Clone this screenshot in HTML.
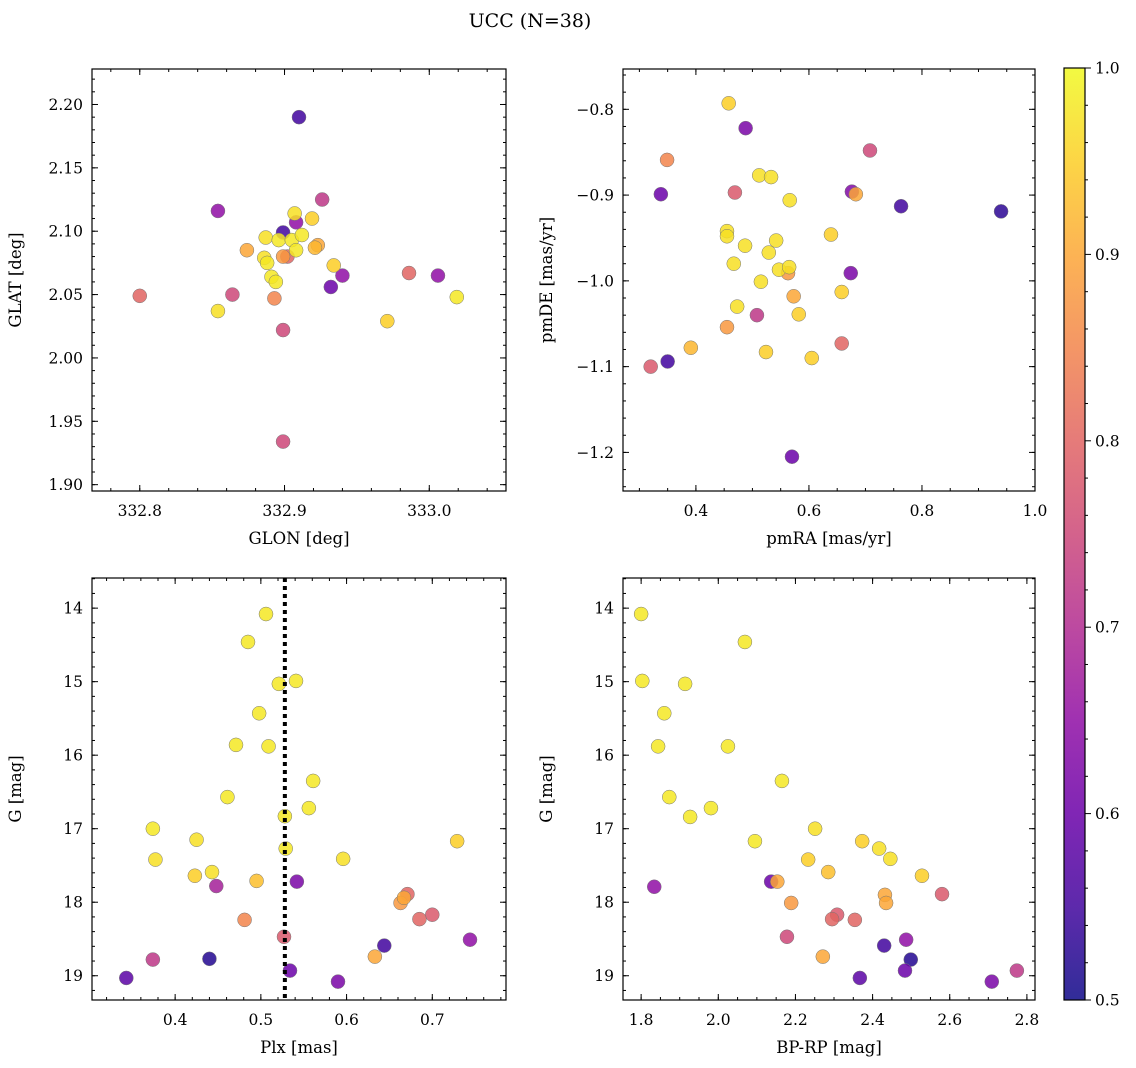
<!DOCTYPE html>
<html><head><meta charset="utf-8"><style>
body{margin:0;background:#fff;}
svg{display:block;font-family:"DejaVu Serif","Liberation Serif",serif;}
</style></head><body>
<svg id="fig" width="1136" height="1068" xmlns="http://www.w3.org/2000/svg">
<defs><linearGradient id="plasma" x1="0" y1="1" x2="0" y2="0"></linearGradient></defs>
<text x="530" y="27" font-size="19" text-anchor="middle">UCC (N=38)</text>
</svg>
<script>
// ---- Panel 1: GLON vs GLAT ----
const glon1 = [332.800,332.854,332.864,332.854,332.874,332.887,332.886,332.888,332.891,332.894,332.893,332.896,332.899,332.899,332.902,332.899,332.899,332.905,332.907,332.908,332.910,332.908,332.912,332.919,332.921,332.923,332.926,332.934,332.932,332.940,332.971,332.986,333.006,333.019];
const glat1 = [2.049,2.116,2.050,2.037,2.085,2.095,2.079,2.075,2.064,2.060,2.047,2.093,2.099,2.080,2.080,2.022,1.934,2.093,2.114,2.107,2.190,2.085,2.097,2.110,2.087,2.089,2.125,2.073,2.056,2.065,2.029,2.067,2.065,2.048];
const prob1 = [0.80,0.65,0.75,0.97,0.90,0.97,0.97,0.98,0.98,0.98,0.85,0.98,0.55,0.88,0.80,0.75,0.75,0.98,0.97,0.65,0.55,0.98,0.98,0.95,0.92,0.90,0.72,0.95,0.60,0.65,0.95,0.80,0.65,0.98];
// ---- Panel 2: pmRA vs pmDE ----
const pmra2 = [0.458,0.488,0.349,0.338,0.469,0.512,0.533,0.566,0.676,0.683,0.708,0.763,0.940,0.455,0.455,0.487,0.542,0.639,0.529,0.467,0.547,0.563,0.565,0.515,0.674,0.658,0.573,0.473,0.582,0.508,0.455,0.391,0.524,0.605,0.658,0.320,0.350,0.570];
const pmde2 = [-0.793,-0.822,-0.859,-0.899,-0.897,-0.877,-0.879,-0.906,-0.896,-0.899,-0.848,-0.913,-0.919,-0.942,-0.948,-0.959,-0.953,-0.946,-0.967,-0.980,-0.987,-0.991,-0.984,-1.001,-0.991,-1.013,-1.018,-1.030,-1.039,-1.040,-1.054,-1.078,-1.083,-1.090,-1.073,-1.100,-1.094,-1.205];
const prob2 = [0.95,0.62,0.85,0.60,0.78,0.97,0.97,0.97,0.63,0.90,0.75,0.55,0.53,0.97,0.97,0.97,0.97,0.95,0.97,0.97,0.97,0.88,0.97,0.97,0.62,0.95,0.90,0.97,0.95,0.72,0.88,0.92,0.95,0.95,0.80,0.78,0.55,0.60];
// ---- Panel 3: Plx vs G ----
const plx3 = [0.506,0.485,0.521,0.541,0.498,0.471,0.509,0.561,0.461,0.556,0.374,0.528,0.425,0.729,0.529,0.377,0.596,0.443,0.423,0.495,0.448,0.542,0.671,0.667,0.663,0.700,0.685,0.481,0.527,0.744,0.644,0.633,0.374,0.440,0.534,0.343,0.590];
const g3 = [14.08,14.46,15.03,14.99,15.43,15.86,15.88,16.35,16.57,16.72,17.00,16.83,17.15,17.17,17.27,17.42,17.41,17.59,17.64,17.71,17.78,17.72,17.89,17.94,18.01,18.17,18.23,18.24,18.47,18.51,18.59,18.74,18.78,18.77,18.93,19.03,19.08];
const prob3 = [0.98,0.98,0.98,0.98,0.98,0.98,0.98,0.98,0.98,0.98,0.98,0.98,0.97,0.95,0.98,0.97,0.97,0.97,0.95,0.93,0.68,0.62,0.80,0.90,0.88,0.78,0.80,0.85,0.78,0.65,0.55,0.90,0.72,0.52,0.60,0.58,0.62];
const plxMean = 0.528;
// ---- Panel 4: BP-RP vs G ----
const bprp4 = [1.800,2.069,1.803,1.914,1.860,1.844,2.025,2.165,1.873,1.981,1.927,2.095,2.251,2.373,2.417,2.446,2.233,2.285,2.528,1.834,2.137,2.153,2.432,2.435,2.580,2.189,2.308,2.295,2.354,2.178,2.487,2.430,2.271,2.499,2.774,2.484,2.367,2.709];
const g4 = [14.08,14.46,14.99,15.03,15.43,15.88,15.88,16.35,16.57,16.72,16.84,17.17,17.00,17.17,17.27,17.41,17.42,17.59,17.64,17.79,17.72,17.72,17.90,18.01,17.89,18.01,18.17,18.23,18.24,18.47,18.51,18.59,18.74,18.78,18.93,18.93,19.03,19.08];
const prob4 = [0.98,0.98,0.98,0.98,0.98,0.98,0.98,0.98,0.98,0.98,0.98,0.98,0.97,0.95,0.97,0.97,0.95,0.93,0.95,0.65,0.60,0.90,0.90,0.90,0.78,0.88,0.78,0.80,0.80,0.75,0.65,0.55,0.90,0.52,0.72,0.60,0.58,0.62];

const NS='http://www.w3.org/2000/svg';
const svg=document.getElementById('fig');
const stops=['#0d0887','#41049d','#6a00a8','#8f0da4','#b12a90','#cc4778','#e16462','#f2844b','#fca636','#fcce25','#f0f921'];
function hex(c){return [1,3,5].map(i=>parseInt(c.substr(i,2),16));}
function plasma(v){let t=Math.max(0,Math.min(1,(v-0.5)/0.5))*10;let i=Math.min(9,Math.floor(t)),f=t-i;
 const a=hex(stops[i]),b=hex(stops[i+1]);return 'rgb('+a.map((x,k)=>Math.round(x+(b[k]-x)*f)).join(',')+')';}
function el(tag,attrs,parent){const e=document.createElementNS(NS,tag);for(const k in attrs)e.setAttribute(k,attrs[k]);(parent||svg).appendChild(e);return e;}
function fmt(v,d){let s=v.toFixed(d);return s.replace('-','\u2212');}

function panel(name,box,xr,yr,xMaj,xMin,yMaj,yMin,xd,yd,xs,ys,cs,xlabel,ylabel,invertY){
 const [L,T,R,B]=box;
 const g=el('g',{});
 
 
 const X=v=>L+(v-xr[0])/(xr[1]-xr[0])*(R-L);
 const Y=invertY?(v=>T+(v-yr[0])/(yr[1]-yr[0])*(B-T)):(v=>B-(v-yr[0])/(yr[1]-yr[0])*(B-T));
 const ticks=(lo,hi,st)=>{const a=[];for(let k=Math.ceil(lo/st-1e-6);k*st<=hi+1e-9;k++)a.push(k*st);return a;};
 const tg=el('g',{stroke:'#000','stroke-width':1},g);
 
 
 ticks(xr[0],xr[1],xMin).forEach(v=>{const x=X(v);el('line',{x1:x,x2:x,y1:B,y2:B-3},tg);el('line',{x1:x,x2:x,y1:T,y2:T+3},tg);});
 ticks(Math.min(...yr),Math.max(...yr),yMin).forEach(v=>{const y=Y(v);el('line',{x1:L,x2:L+3,y1:y,y2:y},tg);el('line',{x1:R,x2:R-3,y1:y,y2:y},tg);});
 ticks(xr[0],xr[1],xMaj).forEach(v=>{const x=X(v);el('line',{x1:x,x2:x,y1:B,y2:B-6},tg);el('line',{x1:x,x2:x,y1:T,y2:T+6},tg);
  const t=el('text',{x:x,y:B+25,'font-size':15.5,'text-anchor':'middle'},g);t.textContent=fmt(v,xd);
  
  });
 ticks(Math.min(...yr),Math.max(...yr),yMaj).forEach(v=>{const y=Y(v);el('line',{x1:L,x2:L+6,y1:y,y2:y},tg);el('line',{x1:R,x2:R-6,y1:y,y2:y},tg);
  const t=el('text',{x:L-9,y:y+5.5,'font-size':15.5,'text-anchor':'end'},g);t.textContent=fmt(v,yd);
  
  });
 const pg=el('g',{},g);
 
 
 const order=xs.map((_,i)=>i).sort((a,b)=>cs[a]-cs[b]);
 order.forEach(i=>{const c=el('circle',{cx:X(xs[i]),cy:Y(ys[i]),r:7,fill:plasma(cs[i]),'fill-opacity':0.85,stroke:'#777','stroke-width':0.5},pg);
  
  });
 const fr=el('rect',{x:L,y:T,width:R-L,height:B-T,fill:'none',stroke:'#000','stroke-width':1.2},g);
 
 
 const xl=el('text',{x:(L+R)/2,y:B+53,'font-size':16.5,'text-anchor':'middle'},g);xl.textContent=xlabel;
 
 
 const yx=L-71;const yl=el('text',{x:yx,y:(T+B)/2,'font-size':16.5,'text-anchor':'middle',transform:`rotate(-90 ${yx} ${(T+B)/2})`},g);yl.textContent=ylabel;
 
 
 return {X,Y,g};
}
panel('glon-glat-panel',[92,69,506,491],[332.767,333.053],[1.895,2.228],0.1,0.02,0.05,0.01,1,2,glon1,glat1,prob1,'GLON [deg]','GLAT [deg]',false);
panel('pm-panel',[623,69,1035,491],[0.271,1.0],[-1.245,-0.753],0.2,0.05,0.1,0.02,1,1,pmra2,pmde2,prob2,'pmRA [mas/yr]','pmDE [mas/yr]',false);
const p3=panel('plx-g-panel',[92,578,506,1000],[0.303,0.786],[13.59,19.33],0.1,0.02,1,0.2,1,0,plx3,g3,prob3,'Plx [mas]','G [mag]',true);
const ml=el('line',{x1:p3.X(plxMean),x2:p3.X(plxMean),y1:578,y2:1000,stroke:'#000','stroke-width':4,'stroke-dasharray':'4,4'},p3.g);


panel('cmd-panel',[623,578,1035,1000],[1.753,2.821],[13.59,19.33],0.2,0.05,1,0.2,1,0,bprp4,g4,prob4,'BP-RP [mag]','G [mag]',true);

// colorbar
const grad=document.getElementById('plasma');
stops.forEach((c,i)=>{el('stop',{offset:i/10,'stop-color':c},grad);});
const cb=el('g',{});


el('rect',{x:1064,y:68,width:21,height:932,fill:'url(#plasma)','fill-opacity':0.85},cb);
el('rect',{x:1064,y:68,width:21,height:932,fill:'none',stroke:'#000','stroke-width':1.2},cb);
const cbY=v=>1000-(v-0.5)/0.5*932;
for(let k=25;k<=50;k++){const v=k/50,y=cbY(v),maj=k%5===0;
 el('line',{x1:1085,x2:1085+(maj?6:3),y1:y,y2:y,stroke:'#000'},cb);
 if(maj){const t=el('text',{x:1095,y:y+5.5,'font-size':15.5},cb);t.textContent=v.toFixed(1);
  
  }}
</script>
</body></html>
